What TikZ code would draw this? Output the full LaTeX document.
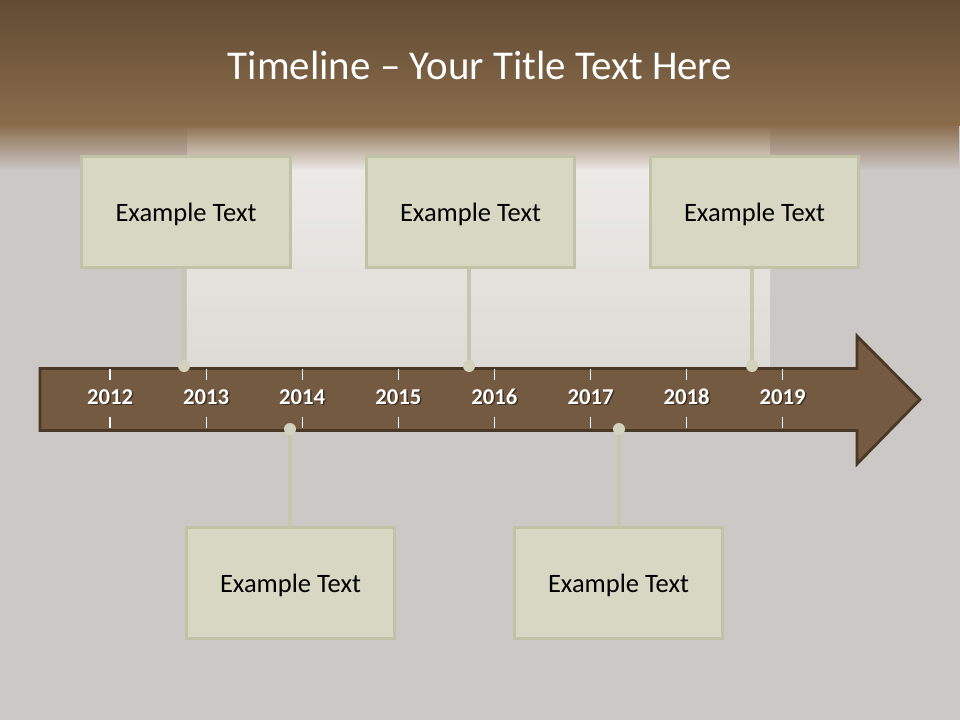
\documentclass[tikz,border=0pt]{standalone}
\usepackage{fontspec}
\setmainfont{Carlito}
\usetikzlibrary{fadings}

\definecolor{topbrown}{HTML}{614B33}
\definecolor{midbrown}{HTML}{8A6C4B}
\definecolor{wallgray}{HTML}{CBC8C5}
\definecolor{wallpale}{HTML}{EFEDEA}
\definecolor{wallshade}{HTML}{DEDBD6}
\definecolor{arrowfill}{HTML}{745A40}
\definecolor{arrowedge}{HTML}{4A3826}
\definecolor{boxfill}{HTML}{D7D7C3}
\definecolor{boxedge}{HTML}{C2C2A6}
\definecolor{stemcol}{HTML}{C7C7AD}

\tikzfading[name=fadeout, top color=transparent!0, bottom color=transparent!100]

\begin{document}
\begin{tikzpicture}[x=0.02cm,y=-0.02cm,
  card/.style={draw=boxedge,line width=1.7pt,fill=boxfill,
    minimum width=4.18cm,minimum height=2.22cm,text depth=0pt,
    font=\fontsize{15.1}{17}\selectfont},
  yearlbl/.style={text=white,font=\bfseries\fontsize{12.9}{15}\selectfont,anchor=base},
  tick/.style={draw=white,line width=0.6pt},
  stem/.style={draw=stemcol,line width=2.3pt},
  knob/.style={fill=stemcol!80!white}]
  \useasboundingbox (0,0) rectangle (960,720);

  % wall and ceiling
  \fill[wallgray] (0,0) rectangle (960,720);
  \fill[top color=wallpale,bottom color=wallshade] (187,128) rectangle (770,368);
  \fill[top color=topbrown,bottom color=midbrown] (0,0) rectangle (960,125);
  \fill[midbrown,path fading=fadeout] (0,124) rectangle (960,170);

  \node[text=white,anchor=base,font=\fontsize{23.3}{26}\selectfont] (title) at (480,79)
    {Timeline -- Your Title Text Here};

  % the arrow
  \draw[draw=arrowedge,line width=1.6pt,fill=arrowfill,line join=miter]
    (40,368.5) -- (857,368.5) -- (857,336) -- (920,399.5) -- (857,464)
    -- (857,430.5) -- (40,430.5) -- cycle;

  \foreach \yr [count=\i from 0] in {2012,2013,2014,2015,2016,2017,2018,2019} {
    \draw[tick] (110+96.1*\i,369) -- ++(0,11);
    \draw[tick] (110+96.1*\i,417) -- ++(0,11);
    \node[yearlbl,text=black,opacity=0.45] at (111.5+96.1*\i,405.5) {\yr};
    \node[yearlbl] (y\yr) at (110+96.1*\i,404) {\yr};
  }

  % markers on the arrow
  \coordinate (m1) at (184,366);
  \coordinate (m2) at (469,366);
  \coordinate (m3) at (752,366);
  \coordinate (m4) at (290,429);
  \coordinate (m5) at (619,429);

  \node[card] (c1) at (186,212) {Example Text};
  \node[card] (c2) at (470.5,212) {Example Text};
  \node[card] (c3) at (754.5,212) {Example Text};
  \node[card] (c4) at (290.5,583) {Example Text};
  \node[card] (c5) at (618.5,583) {Example Text};

  \foreach \k in {1,2,3} {
    \draw[stem] (m\k) -- (m\k |- c\k.south);
    \fill[knob] (m\k) circle (0.12cm);
  }
  \foreach \k in {4,5} {
    \draw[stem] (m\k) -- (m\k |- c\k.north);
    \fill[knob] (m\k) circle (0.12cm);
  }
\end{tikzpicture}
\end{document}
